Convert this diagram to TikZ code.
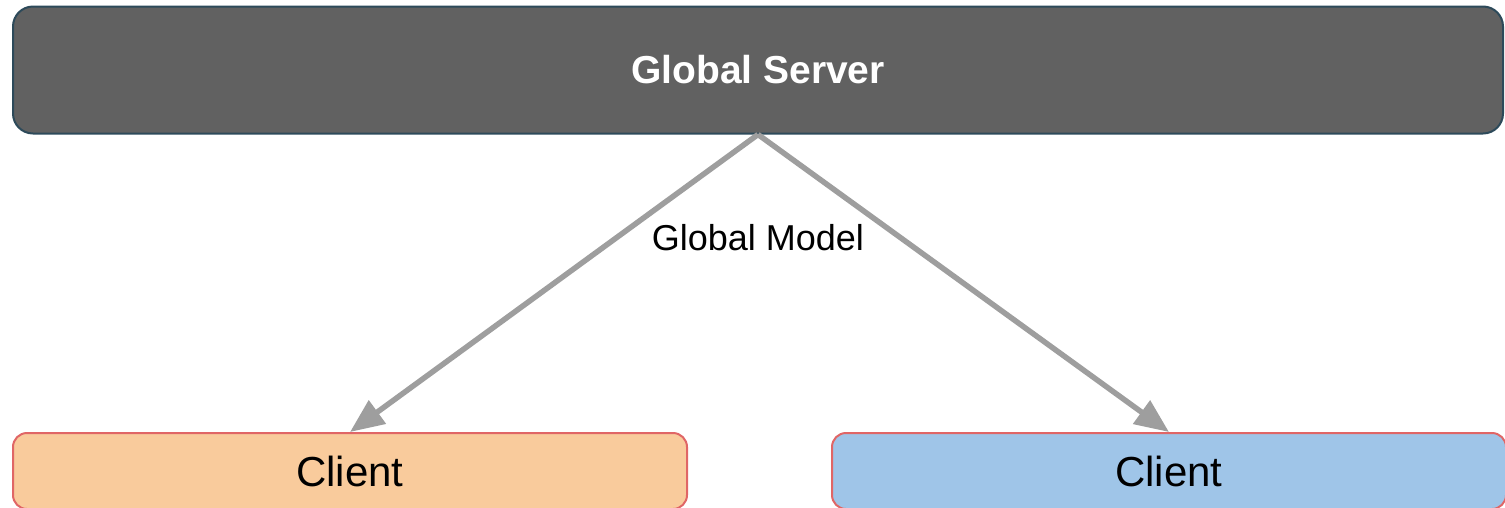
\documentclass[tikz,border=0pt]{standalone}
\usepackage{fontspec}
\setmainfont{Liberation Sans}
\usetikzlibrary{positioning,arrows.meta}

\definecolor{servergray}{HTML}{616161}
\definecolor{serverline}{HTML}{2D4A5A}
\definecolor{clientline}{HTML}{E06666}
\definecolor{clientorange}{HTML}{F9CB9C}
\definecolor{clientblue}{HTML}{9FC5E8}
\definecolor{linkgray}{HTML}{9E9E9E}

\begin{document}
\begin{tikzpicture}[
x=1pt,y=-1pt,
server/.style={
  draw=serverline,
  fill=servergray,
  line width=2pt,
  rounded corners=20pt,
  minimum width=1490pt,
  minimum height=127pt,
  text=white,
  font=\fontsize{39}{44}\selectfont\bfseries
  },
client/.style={
  draw=clientline,
  line width=2pt,
  rounded corners=14pt,
  minimum width=674pt,
  minimum height=76pt,
  font=\fontsize{42}{48}\selectfont
  },
link/.style={
  draw=linkgray,
  line width=5.5pt,
  -{Triangle[length=34pt,width=28pt]}
  },
>=latex
]
\useasboundingbox (0,0) rectangle (1505,507);
\node[server] (srv) at (758,70) {Global Server};
\node[client,fill=clientorange] (cl1) at (350,471) {Client};
\node[client,fill=clientblue] (cl2) at (1169,471) {Client};
\node[font=\fontsize{36}{40}\selectfont] (gm) at (758,238) {Global Model};
% model goes out from the server to both clients
\foreach \c in {cl1,cl2}
  \draw[link] (srv.south) -- (\c.north);
\end{tikzpicture}
\end{document}
